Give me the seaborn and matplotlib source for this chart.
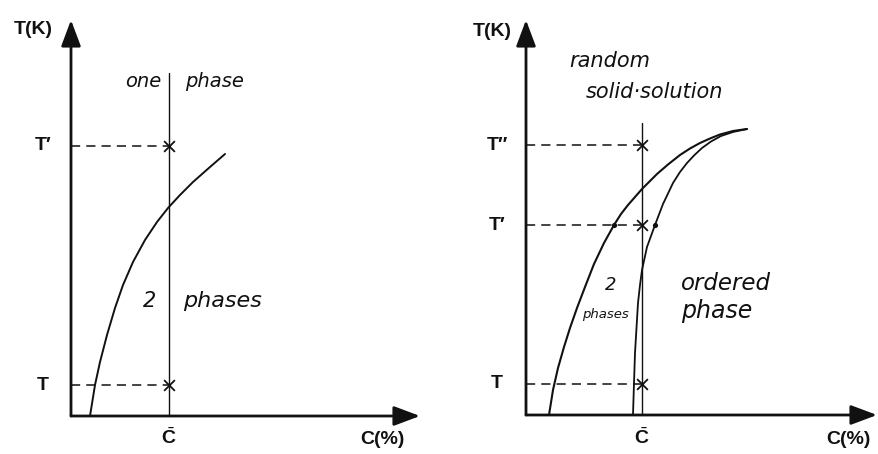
import matplotlib
matplotlib.use("Agg")
import matplotlib.pyplot as plt
import seaborn as sns

# ---- left diagram: simple two-phase boundary ----
left_curve_c = [1.9, 2.4, 2.9, 3.6, 4.4, 5.2, 6.2, 7.4, 8.6, 9.7, 10.9, 12.2, 13.9, 15.4]
left_curve_t = [0.0, 3.1, 5.4, 8.1, 10.8, 13.1, 15.4, 17.6, 19.4, 20.8, 22.1, 23.4, 24.9, 26.2]
left_cbar = 9.8
left_cbar_top = 34.3
left_temps = [27.0, 3.1]
left_temp_labels = ["T\u2032", "T"]

# ---- right diagram: order-disorder transition with two-phase lens ----
outer_curve_c = [2.3, 2.7, 3.2, 3.8, 4.4, 5.1, 5.9, 6.8, 7.8, 8.8, 9.5, 10.2,
                 11.6, 13.1, 14.2, 15.4, 16.4, 17.4, 18.4, 19.4, 20.7, 22.1]
outer_curve_t = [0.0, 2.5, 4.7, 6.8, 8.7, 10.7, 12.8, 15.1, 17.2, 19.0, 20.1, 21.0,
                 22.6, 24.1, 25.05, 26.0, 26.65, 27.2, 27.65, 28.05, 28.4, 28.6]
inner_curve_c = [10.7, 10.8, 10.9, 11.2, 11.4, 11.6, 12.1, 12.9, 13.7, 14.7,
                 15.4, 16.1, 16.8, 17.6, 18.5, 19.5, 20.7, 22.1]
inner_curve_t = [0.0, 3.2, 6.2, 11.2, 13.0, 14.5, 16.8, 19.0, 21.1, 23.2,
                 24.3, 25.2, 25.95, 26.7, 27.35, 27.9, 28.3, 28.6]
right_cbar = 11.6
right_cbar_top = 29.2
right_temps = [27.0, 19.0, 3.1]
right_temp_labels = ["T\u2033", "T\u2032", "T"]
tie_line_c = [8.8, 12.9]   # ends of the tie line at T'
tie_line_t = [19.0, 19.0]

sns.set_theme(style="white")
plt.rcParams["font.family"] = ["Liberation Sans", "DejaVu Sans"]
plt.rcParams["mathtext.fontset"] = "custom"
plt.rcParams["mathtext.rm"] = "Liberation Sans"
plt.rcParams["mathtext.bf"] = "Liberation Sans:bold"

fig = plt.figure(figsize=(8.79, 4.54), dpi=100)
fig.patch.set_facecolor("white")

ax_l = fig.add_axes([0, 0, 440 / 879, 1])
ax_r = fig.add_axes([440 / 879, 0, 439 / 879, 1])
ax_l.set_xlim(-7.1, 36.9)
ax_l.set_ylim(-3.8, 41.6)
ax_r.set_xlim(-8.6, 35.3)
ax_r.set_ylim(-3.9, 41.5)

INK = "#111111"
label_kw = dict(fontsize=14, color=INK, fontweight="bold")
hand_kw = dict(color=INK, fontstyle="italic", family=["DejaVu Sans"])
curve_kw = dict(sort=False, estimator=None, color=INK,
                solid_joinstyle="round", solid_capstyle="round")


def draw_frame(ax, x_tip, y_tip):
    arrow = dict(arrowstyle="-|>,head_length=0.8,head_width=0.3", lw=2.0,
                 color=INK, shrinkA=0, shrinkB=0, mutation_scale=20)
    ax.annotate("", xy=(0, y_tip), xytext=(0, 0), arrowprops=arrow)
    ax.annotate("", xy=(x_tip, 0), xytext=(0, 0), arrowprops=arrow)


def draw_levels(ax, cbar, temps, labels, label_x):
    ax.hlines(temps, 0, cbar, colors=INK, linestyles=(0, (6, 4)), lw=1.1)
    sns.scatterplot(x=[cbar] * len(temps), y=temps, marker="x", s=60,
                    color=INK, linewidth=1.3, ax=ax, zorder=5)
    for t, lab in zip(temps, labels):
        ax.text(label_x, t, lab, ha="center", va="center", **label_kw)


# left panel
draw_frame(ax_l, 34.9, 39.6)
ax_l.plot([left_cbar, left_cbar], [0, left_cbar_top], color=INK, lw=1.0)
sns.lineplot(x=left_curve_c, y=left_curve_t, lw=1.4, ax=ax_l, **curve_kw)
draw_levels(ax_l, left_cbar, left_temps, left_temp_labels, -2.8)
ax_l.text(-3.8, 38.6, "T(K)", ha="center", va="center", **label_kw)
ax_l.text(left_cbar, -2.2, r"$\bar{\mathbf{C}}$", ha="center", va="center", **label_kw)
ax_l.text(31.1, -2.4, "C(%)", ha="center", va="center", **label_kw)
ax_l.text(7.2, 32.9, "one", ha="center", va="baseline", fontsize=14, **hand_kw)
ax_l.text(14.4, 32.9, "phase", ha="center", va="baseline", fontsize=14, **hand_kw)
ax_l.text(7.9, 10.9, "2", ha="center", va="baseline", fontsize=15, **hand_kw)
ax_l.text(15.2, 10.9, "phases", ha="center", va="baseline", fontsize=16, **hand_kw)

# right panel
draw_frame(ax_r, 35.1, 39.5)
ax_r.plot([right_cbar, right_cbar], [0, right_cbar_top], color=INK, lw=1.0)
sns.lineplot(x=outer_curve_c, y=outer_curve_t, lw=1.5, ax=ax_r, **curve_kw)
sns.lineplot(x=inner_curve_c, y=inner_curve_t, lw=1.3, ax=ax_r, **curve_kw)
draw_levels(ax_r, right_cbar, right_temps, right_temp_labels, -2.9)
sns.scatterplot(x=tie_line_c, y=tie_line_t, marker="o", s=14, color=INK,
                linewidth=0, ax=ax_r, zorder=5)
ax_r.text(-3.4, 38.4, "T(K)", ha="center", va="center", **label_kw)
ax_r.text(right_cbar, -2.3, r"$\bar{\mathbf{C}}$", ha="center", va="center", **label_kw)
ax_r.text(32.2, -2.5, "C(%)", ha="center", va="center", **label_kw)
ax_r.text(8.4, 34.8, "random", ha="center", va="baseline", fontsize=15, **hand_kw)
ax_r.text(12.9, 31.7, "solid\u00b7solution", ha="center", va="baseline", fontsize=15, **hand_kw)
ax_r.text(8.5, 12.5, "2", ha="center", va="baseline", fontsize=13, **hand_kw)
ax_r.text(7.9, 9.7, "phases", ha="center", va="baseline", fontsize=9.5, **hand_kw)
ax_r.text(20.0, 12.5, "ordered", ha="center", va="baseline", fontsize=16.5, **hand_kw)
ax_r.text(19.1, 9.7, "phase", ha="center", va="baseline", fontsize=17, **hand_kw)

for ax in (ax_l, ax_r):
    ax.axis("off")

fig.savefig("out.png", dpi=100, facecolor="white")
